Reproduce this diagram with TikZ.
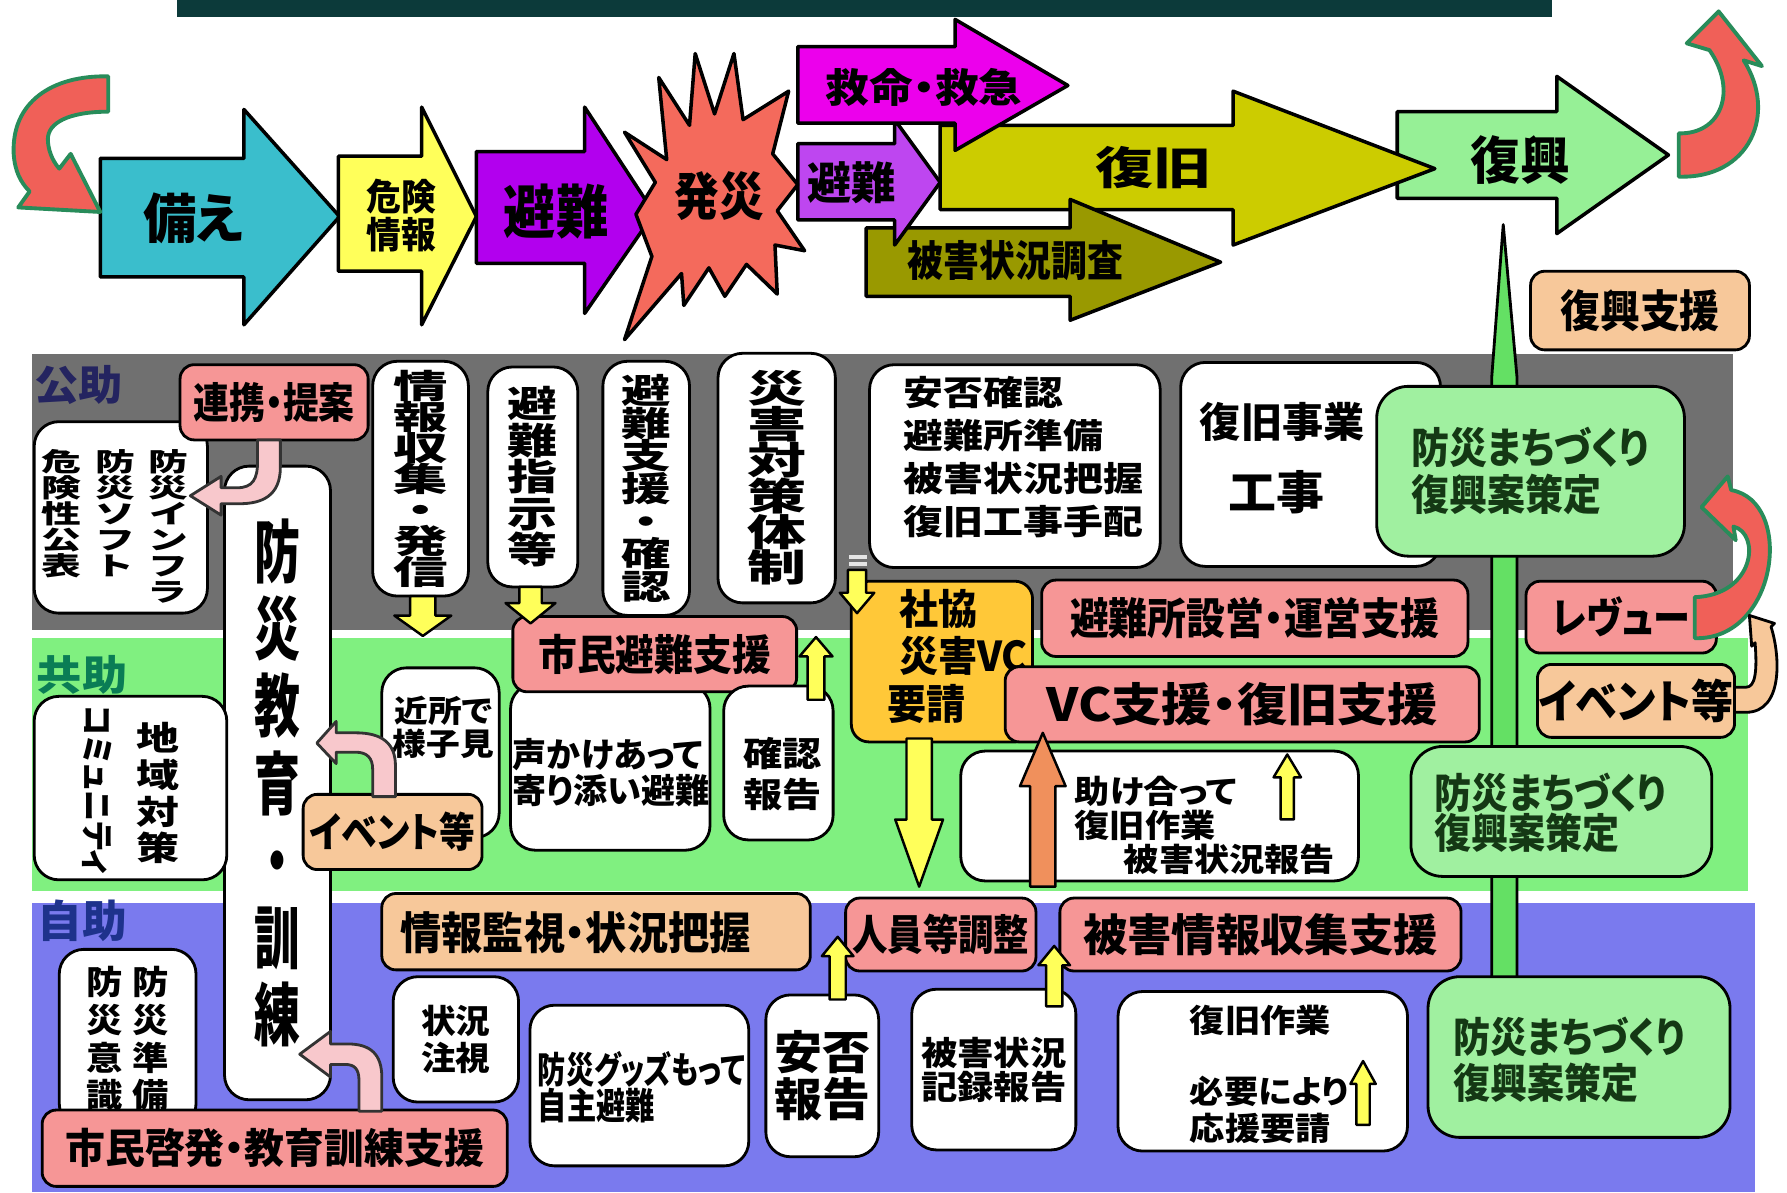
\documentclass[tikz,border=0pt]{standalone}
\usepackage{fontspec}
\setmainfont{Noto Sans CJK JP}[RawFeature={+palt}]
\usepackage{graphicx}
\usetikzlibrary{calc}

\definecolor{barC}{RGB}{12,58,58}
\definecolor{grayB}{RGB}{112,112,112}
\definecolor{greenBand}{RGB}{128,240,128}
\definecolor{blueB}{RGB}{122,122,238}
\definecolor{cyanA}{RGB}{58,190,204}
\definecolor{yellowA}{RGB}{255,255,90}
\definecolor{purpleA}{RGB}{178,0,238}
\definecolor{magentaA}{RGB}{236,0,236}
\definecolor{violetA}{RGB}{190,70,240}
\definecolor{oliveA}{RGB}{204,204,0}
\definecolor{oliveB}{RGB}{153,153,0}
\definecolor{greenTop}{RGB}{150,240,150}
\definecolor{redStar}{RGB}{244,106,92}
\definecolor{redC}{RGB}{240,96,88}
\definecolor{greenC}{RGB}{40,140,90}
\definecolor{salmonB}{RGB}{246,150,150}
\definecolor{peachB}{RGB}{247,200,154}
\definecolor{goldA}{RGB}{255,200,56}
\definecolor{greenB}{RGB}{160,240,160}
\definecolor{barG}{RGB}{100,224,100}
\definecolor{pinkA}{RGB}{248,200,204}
\definecolor{orangeA}{RGB}{240,144,92}
\definecolor{navyL}{RGB}{36,36,96}
\definecolor{tealL}{RGB}{10,125,85}
\definecolor{blueL}{RGB}{30,50,140}
\definecolor{darkG}{RGB}{20,56,20}

\newdimen\pxu \pxu=0.011397cm
\newcommand\jf[2]{\fontsize{#1}{#2}\selectfont\bfseries}      % size, line pitch
\newcommand\hx[2]{\scalebox{#1}[1]{#2}}                      % horizontal stretch
\newcommand\vtxt[3]{\vtop{\baselineskip=#2\lineskiplimit=-\maxdimen\lineskip=0pt\def\vtsx{#1}\vtloop#3\relax}}
\def\vtloop#1{\ifx#1\relax\else\hbox to 0pt{\hss\scalebox{\vtsx}[1]{#1}\hss}\expandafter\vtloop\fi}
% box from corner (x1,y1) to (x2,y2)
\newcommand\bx[7]{\node[#1, minimum width={(#5-#3)*\pxu}, minimum height={(#6-#4)*\pxu}] (#2) at ({(#3+#5)/2},{(#4+#6)/2}) {#7};}
% vertical block arrow: style, tail, tip, shaft half, head half, head length
\newcommand\barrow[6]{%
  \path (#2) coordinate (ba) (#3) coordinate (bt);
  \path ($(bt)!#6!(ba)$) coordinate (bh);
  \draw[#1] let \p1=(ba), \p2=(bh), \p3=(bt) in
    (\x3-#4,\y1) -- (\x3-#4,\y2) -- (\x3-#5,\y2) -- (\x3,\y3) -- (\x3+#5,\y2) -- (\x3+#4,\y2) -- (\x3+#4,\y1) -- cycle;}

\begin{document}
\begin{tikzpicture}[x=0.011397cm, y=-0.011397cm, line join=round,
  frame/.style={draw=black, line width=1pt},
  lbl/.style={inner sep=0pt, outer sep=0pt},
  wbox/.style={draw=black, line width=.8pt, fill=white, rounded corners=7pt, inner sep=0pt, outer sep=0pt},
  sbox/.style={wbox, fill=salmonB, rounded corners=4pt},
  pbox/.style={wbox, fill=peachB, rounded corners=4pt},
  gbox/.style={wbox, fill=greenB, rounded corners=9pt, text=darkG},
  ybox/.style={wbox, fill=goldA, rounded corners=5pt},
  yarr/.style={draw=black, line width=.7pt, fill=yellowA},
  oarr/.style={draw=black, line width=.7pt, fill=orangeA},
  parr/.style={draw=black!80, line width=.8pt, fill=pinkA},
  karr/.style={draw=black, line width=.8pt, fill=peachB},
  carr/.style={draw=greenC, line width=1.1pt, fill=redC}]

\useasboundingbox (0,0) rectangle (1568,1046);
\fill[white] (0,0) rectangle (1568,1046);
\fill[barC] (155,0) rectangle (1362,15);

% bands
\fill[grayB] (28,311) rectangle (1521,553);
\fill[greenBand] (28,560) rectangle (1534,782);
\fill[blueB] (28,792) rectangle (1540,1046);
\node[lbl, text=navyL, font=\jf{11.7pt}{12pt}] (kojo) at (69,338) {\hx{1.08}{公助}};
\node[lbl, text=tealL, font=\jf{11.7pt}{12pt}] (kyojo) at (72,592) {\hx{1.1}{共助}};
\node[lbl, text=blueL, font=\jf{12.5pt}{12pt}] (jijo) at (72,808) {\hx{1.02}{自助}};

% green stem
\draw[black, line width=.8pt, fill=barG] (1319,197) -- (1331,330) -- (1331,862) -- (1309,862) -- (1309,330) -- cycle;

% top row
\draw[frame, fill=cyanA] (88,139) -- (214,139) -- (214,96) -- (298,190) -- (214,285) -- (214,243) -- (88,243) -- cycle;
\node[lbl, font=\jf{15.2pt}{16pt}] (sonae) at (170,192) {\hx{1}{備え}};
\draw[frame, fill=yellowA] (297,137) -- (370,137) -- (370,94) -- (418,190) -- (370,285) -- (370,238) -- (297,238) -- cycle;
\node[lbl, font=\jf{10.4pt}{11pt}, align=center] (kiken) at (352,189) {\hx{.95}{危険}\\\hx{.95}{情報}};
\draw[frame, fill=purpleA] (418,133) -- (513,133) -- (513,94) -- (574,187) -- (513,275) -- (513,231) -- (418,231) -- cycle;
\node[lbl, font=\jf{16.5pt}{17pt}] (hinanA) at (488,186) {\hx{.9}{避難}};
\draw[frame, fill=greenTop] (1226,98) -- (1366,98) -- (1366,67) -- (1464,136) -- (1366,205) -- (1366,174) -- (1226,174) -- cycle;
\node[lbl, font=\jf{14.6pt}{15pt}] (fukko) at (1334,140) {\hx{.97}{復興}};
\draw[frame, fill=oliveA] (825,110) -- (1082,110) -- (1082,80) -- (1259,148) -- (1082,215) -- (1082,184) -- (825,184) -- cycle;
\node[lbl, font=\jf{12.7pt}{13pt}] (fukkyu) at (1012,147) {\hx{1.3}{復旧}};
\draw[frame, fill=oliveB] (760,200) -- (939,200) -- (939,175) -- (1071,230) -- (939,281) -- (939,260) -- (760,260) -- cycle;
\node[lbl, font=\jf{12pt}{12pt}] (chosa) at (891,229) {\hx{.85}{被害状況調査}};
\draw[frame, fill=violetA] (700,126) -- (785,126) -- (785,105) -- (825,160) -- (785,215) -- (785,193) -- (700,193) -- cycle;
\node[lbl, font=\jf{12.6pt}{13pt}] (hinanB) at (747,160) {\hx{1}{避難}};
\draw[frame, fill=magentaA] (700,41) -- (838,41) -- (838,17) -- (937,75) -- (838,132) -- (838,108) -- (700,108) -- cycle;
\node[lbl, font=\jf{11.3pt}{12pt}] (kyumei) at (811,77) {\hx{1.1}{救命・救急}};
\draw[frame, fill=redStar] (548,116) -- (585,140) -- (578,68) -- (605,110) -- (610,47) -- (627,100) -- (644,47) -- (652,105) -- (692,80) -- (678,135) -- (700,162) -- (682,185) -- (706,220) -- (680,215) -- (682,258) -- (655,232) -- (636,260) -- (622,235) -- (600,268) -- (598,240) -- (548,298) -- (572,225) -- (558,188) -- (575,160) -- cycle;
\node[lbl, font=\jf{14.6pt}{15pt}] (hassai) at (631,172) {\hx{.87}{発災}};

% cycle arrows
\draw[carr] (95,67) .. controls (45,66) and (10,90) .. (12,135) .. controls (13,150) and (18,160) .. (26,168) -- (16,182) -- (88,186) -- (62,135) -- (52,148) .. controls (45,140) and (42,130) .. (42,122) .. controls (42,108) and (60,98) .. (95,98) -- cycle;
\draw[carr] (1473,117) -- (1473,155) .. controls (1535,157) and (1560,100) .. (1530,53) -- (1546,58) -- (1508,10) -- (1480,38) -- (1500,44) .. controls (1525,80) and (1510,118) .. (1473,117) -- cycle;

% kojo
\bx{wbox}{infra}{30}{370}{182}{538}{}
\node[lbl, font=\jf{7.3pt}{7.3pt}] (infraT) at (101,462) {\vtxt{1.55}{7.4pt}{危険性公表}\hspace{15.2pt}\vtxt{1.55}{7.4pt}{防災ソフト}\hspace{15.2pt}\vtxt{1.55}{7.4pt}{防災インフラ}};
\bx{sbox, font=\jf{12pt}{12pt}}{renkei}{158}{320}{323}{386}{\hx{.85}{連携・提案}}
\bx{wbox, font=\jf{19.5pt}{20pt}}{kyoiku}{197}{409}{290}{965}{\vtxt{.67}{22pt}{防災教育・訓練}}
\bx{wbox, font=\jf{9.4pt}{9.4pt}}{joho}{327}{317}{411}{523}{\vtxt{1.65}{8.8pt}{情報収集・発信}}
\bx{wbox, font=\jf{10.4pt}{10.4pt}}{shiji}{428}{322}{507}{515}{\vtxt{1.37}{10.4pt}{避難指示等}}
\bx{wbox, font=\jf{9.7pt}{9.7pt}}{shien}{529}{317}{605}{540}{\vtxt{1.45}{9.3pt}{避難支援・確認}}
\bx{wbox, font=\jf{10.7pt}{10.7pt}}{taisaku}{630}{310}{733}{529}{\vtxt{1.57}{10.2pt}{災害対策体制}}
\bx{wbox}{anpi}{763}{320}{1018}{498}{}
\node[lbl, font=\jf{9.7pt}{12.2pt}, align=left] (anpiT) at (898,401) {\hx{1.17}{安否確認}\\\hx{1.17}{避難所準備}\\\hx{1.17}{被害状況把握}\\\hx{1.17}{復旧工事手配}};
\bx{wbox}{jigyo}{1036}{318}{1264}{497}{}
\node[lbl, font=\jf{11.7pt}{12pt}] (jigyoT) at (1125,370) {\hx{1}{復旧事業}};
\node[lbl, font=\jf{13pt}{13pt}] (kojiT) at (1120,432) {\hx{1.05}{工事}};
\bx{gbox, font=\jf{12pt}{13.3pt}, align=left}{machiA}{1208}{339}{1478}{488}{\hx{.9}{防災まちづくり}\\\hx{.9}{復興案策定}}
\bx{pbox, font=\jf{12.6pt}{13pt}}{shienF}{1343}{238}{1535}{307}{\hx{.9}{復興支援}}
\draw[white!80!gray, line width=1.2pt] (745,489) -- (761,489) (745,495) -- (761,495);

% kyojo
\bx{wbox}{koekake}{448}{600}{623}{746}{}
\node[lbl, font=\jf{9.7pt}{10.4pt}, align=left, anchor=west] (koekakeT) at (450,678) {\hx{1}{声かけあって}\\\hx{1}{寄り添い避難}};
\bx{sbox, font=\jf{12pt}{12pt}}{shimin}{450}{541}{699}{607}{\hx{.92}{市民避難支援}}
\bx{wbox}{kinjo}{335}{586}{438}{735}{}
\node[lbl, font=\jf{8.8pt}{9.4pt}, align=center] (kinjoT) at (389,638) {\hx{1.09}{近所で}\\\hx{1.09}{様子見}};
\bx{pbox, font=\jf{11.7pt}{12pt}}{eventL}{266}{697}{423}{763}{\hx{.87}{イベント等}}
\bx{wbox}{kakunin}{635}{602}{731}{737}{}
\node[lbl, font=\jf{9.7pt}{11.7pt}, align=center] (kakuninT) at (687,679) {\hx{1.15}{確認}\\\hx{1.15}{報告}};
\bx{wbox}{chiiki}{30}{611}{199}{772}{}
\node[lbl, font=\jf{9.4pt}{9.4pt}] (chiikiT) at (139,696) {\vtxt{1.3}{10.4pt}{地域対策}};
\node[lbl, font=\jf{9.4pt}{9.4pt}, rotate=-90] (commuT) at (85,693) {\hx{.95}{コミュニティ}};
\bx{ybox}{shakyo}{747}{510}{906}{651}{}
\node[lbl, font=\jf{11.7pt}{13.6pt}, align=left, anchor=west] (shakyoT) at (779,576) {\hspace*{3.2pt}\hx{.95}{社協}\\\hspace*{3.2pt}\hx{.95}{災害VC}\\\hx{.95}{要請}};
\bx{sbox, font=\jf{12.3pt}{12pt}}{hinanjo}{914}{509}{1288}{576}{\hx{.9}{避難所設営・運営支援}}
\bx{sbox, font=\jf{13pt}{13pt}}{vc}{882}{585}{1298}{651}{\hx{1.1}{VC支援・復旧支援}}
\bx{wbox}{tasuke}{843}{659}{1192}{773}{}
\node[lbl, font=\jf{9.1pt}{9.7pt}, align=left, anchor=west] (tasukeT) at (943,724) {\hx{1.1}{助け合って}\\\hx{1.1}{復旧作業}\\\hspace*{14pt}\hx{1.1}{被害状況報告}};
\bx{gbox}{machiB}{1238}{655}{1502}{769}{}
\node[lbl, text=darkG, font=\jf{11.7pt}{11.4pt}, align=left, anchor=west] (machiBT) at (1259,713) {\hx{.9}{防災まちづくり}\\\hx{.9}{復興案策定}};
\bx{sbox, font=\jf{12pt}{12pt}}{review}{1339}{510}{1506}{573}{\hx{.88}{レヴュー}}
\bx{pbox, font=\jf{13pt}{13pt}}{eventR}{1349}{583}{1522}{647}{\hx{.92}{イベント等}}

% jijo
\bx{pbox}{kanshi}{335}{784}{711}{851}{}
\node[lbl, font=\jf{12.6pt}{13pt}] (kanshiT) at (505,818) {\hx{.93}{情報監視・状況把握}};
\bx{sbox, font=\jf{12pt}{12pt}}{jinin}{742}{788}{909}{852}{\hx{.84}{人員等調整}}
\bx{sbox, font=\jf{12.6pt}{13pt}}{higaiJ}{930}{788}{1282}{852}{\hx{1}{被害情報収集支援}}
\bx{wbox, font=\jf{9.4pt}{9.4pt}}{bosaiJ}{52}{833}{172}{990}{\vtxt{1.1}{10.7pt}{防災意識}\hspace{13.3pt}\vtxt{1.1}{10.7pt}{防災準備}}
\bx{wbox, font=\jf{9.4pt}{10.7pt}, align=center}{jokyo}{345}{857}{455}{967}{\hx{1.05}{状況}\\\hx{1.05}{注視}}
\bx{wbox}{goods}{465}{882}{657}{1023}{}
\node[lbl, font=\jf{10.4pt}{10.4pt}, align=left, anchor=west] (goodsT) at (472,954) {\hx{.77}{防災グッズもって}\\\hx{.8}{自主避難}};
\bx{wbox, font=\jf{13pt}{12pt}, align=center}{anpiH}{672}{873}{771}{1015}{\hx{1.05}{安否}\\\hx{1.05}{報告}}
\bx{wbox, font=\jf{9.4pt}{9.7pt}, align=center}{higaiK}{800}{868}{944}{1009}{\hx{1.1}{被害状況}\\\hx{1.1}{記録報告}}
\bx{wbox}{fukkyuS}{981}{870}{1235}{1010}{}
\node[lbl, font=\jf{9.1pt}{10.4pt}, anchor=west] (sagyoT) at (1044,895) {\hx{1.1}{復旧作業}};
\node[lbl, font=\jf{9.1pt}{10.4pt}, align=left, anchor=west] (ouenT) at (1044,974) {\hx{1.07}{必要により}\\\hx{1.1}{応援要請}};
\bx{gbox}{machiC}{1253}{857}{1518}{998}{}
\node[lbl, text=darkG, font=\jf{11.7pt}{13pt}, align=left, anchor=west] (machiCT) at (1275,930) {\hx{.9}{防災まちづくり}\\\hx{.9}{復興案策定}};
\bx{sbox, font=\jf{11.7pt}{12pt}}{keihatsu}{37}{974}{445}{1041}{\hx{.97}{市民啓発・教育訓練支援}}

% bent arrows
\draw[parr, shift={(renkei.south)}] (-14.5,0) -- (5.5,0) -- (5.5,24) .. controls (5.5,49) and (-10.5,56) .. (-30.5,56) -- (-46.5,56) -- (-46.5,66) -- (-73.5,49) -- (-46.5,32) -- (-46.5,42) -- (-32.5,42) .. controls (-18.5,42) and (-14.5,34) .. (-14.5,19) -- cycle;
\draw[parr, shift={(eventL.north)}] (-17.5,2) -- (2.5,2) -- (2.5,-25) .. controls (2.5,-45) and (-9.5,-54) .. (-32.5,-54) -- (-49.5,-54) -- (-49.5,-64) -- (-66.5,-45) -- (-49.5,-27) -- (-49.5,-37) -- (-32.5,-37) .. controls (-22.5,-37) and (-17.5,-32) .. (-17.5,-22) -- cycle;
\draw[parr, shift={(keihatsu.north east)}] (-130,1) -- (-110,1) -- (-110,-29) .. controls (-110,-49) and (-120,-58) .. (-140,-58) -- (-155,-58) -- (-155,-69) -- (-182,-49) -- (-155,-29) -- (-155,-40) -- (-142,-40) .. controls (-134,-40) and (-130,-36) .. (-130,-26) -- cycle;
\draw[carr] (1487,524) -- (1487,560) .. controls (1560,562) and (1575,440) .. (1519,430) -- (1516,418) -- (1493,445) -- (1523,474) -- (1521,462) .. controls (1545,468) and (1540,522) .. (1487,524) -- cycle;
\draw[karr, shift={(eventR.east)}] (0,-12) -- (10,-12) .. controls (18,-12) and (20,-25) .. (18,-51) -- (15,-48) -- (13,-75) -- (35,-68) -- (32,-65) .. controls (40,-40) and (43,10) .. (10,10) -- (0,10) -- cycle;

% block arrows
\barrow{yarr}{joho.south}{$(joho.south)+(2,35)$}{3.6pt}{8.1pt}{5.8pt}
\barrow{yarr}{shiji.south}{$(shiji.south)+(-2,32)$}{3.2pt}{7.1pt}{5.8pt}
\barrow{yarr}{$(shakyo.north west)+(5,-10)$}{$(shakyo.north west)+(5,28)$}{2.6pt}{4.9pt}{5.8pt}
\barrow{yarr}{$(kakunin.north east)+(-15,12)$}{$(shimin.east)+(17,-15)$}{2.4pt}{4.7pt}{5.5pt}
\barrow{yarr}{$(shakyo.south)+(-20,-3)$}{$(jinin.north)+(-19,-10)$}{3.6pt}{6.8pt}{19.1pt}
\barrow{oarr}{$(higaiJ.north west)+(-15,-10)$}{$(vc.south west)+(33,-8)$}{3.6pt}{6.5pt}{15.2pt}
\barrow{yarr}{$(tasuke.north)+(112,60)$}{$(tasuke.north)+(112,3)$}{1.9pt}{3.9pt}{6.5pt}
\barrow{yarr}{$(anpiH.north)+(14,4)$}{$(jinin.west)+(-7,2)$}{2.3pt}{4.5pt}{5.5pt}
\barrow{yarr}{$(higaiK.north east)+(-19,15)$}{$(higaiJ.west)+(-5,10)$}{2.3pt}{4.5pt}{5.5pt}
\barrow{yarr}{$(fukkyuS.north)+(88,117)$}{$(fukkyuS.north)+(88,61)$}{1.9pt}{3.6pt}{6.5pt}
\end{tikzpicture}
\end{document}
